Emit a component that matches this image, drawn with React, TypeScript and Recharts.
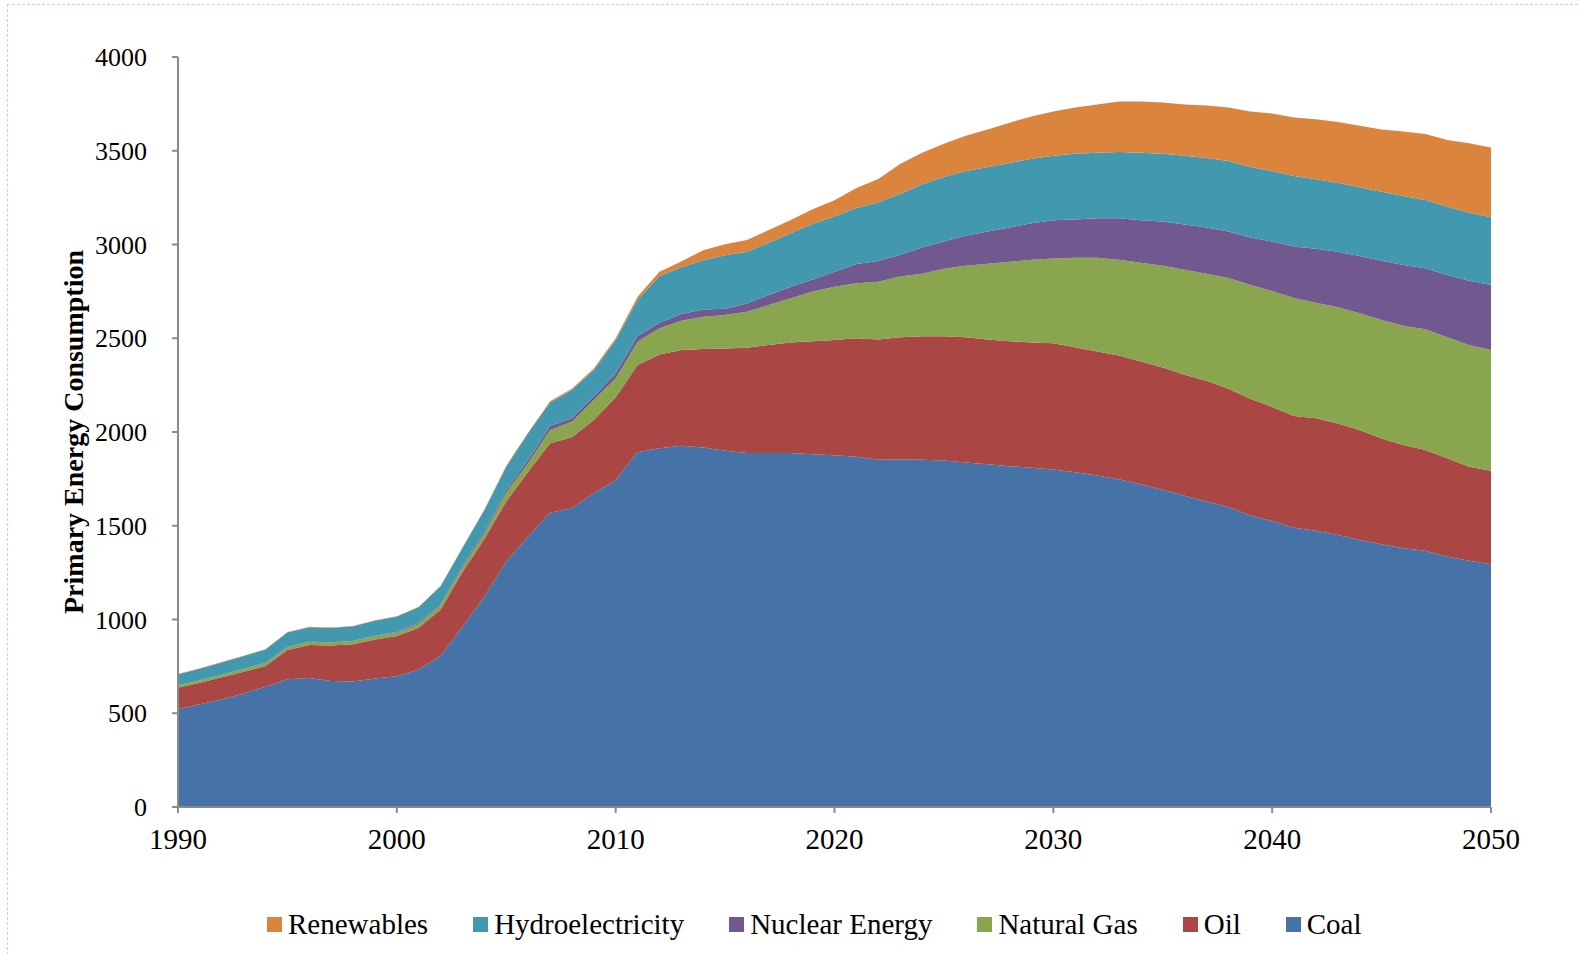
import { AreaChart, Area, XAxis, YAxis } from "recharts";

const years = [
  1990, 1991, 1992, 1993, 1994, 1995, 1996, 1997, 1998, 1999,
  2000, 2001, 2002, 2003, 2004, 2005, 2006, 2007, 2008, 2009,
  2010, 2011, 2012, 2013, 2014, 2015, 2016, 2017, 2018, 2019,
  2020, 2021, 2022, 2023, 2024, 2025, 2026, 2027, 2028, 2029,
  2030, 2031, 2032, 2033, 2034, 2035, 2036, 2037, 2038, 2039,
  2040, 2041, 2042, 2043, 2044, 2045, 2046, 2047, 2048, 2049, 2050,
];

const coal = [
  523, 548, 574, 606, 642, 681, 688, 672, 670, 686,
  697, 734, 805, 962, 1122, 1309, 1442, 1570, 1593, 1673,
  1744, 1892, 1913, 1927, 1917, 1900, 1888, 1888, 1888, 1881,
  1876, 1868, 1852, 1854, 1852, 1848, 1838, 1828, 1818, 1810,
  1800, 1785, 1768, 1748, 1720, 1692, 1660, 1630, 1600, 1555,
  1525, 1490, 1474, 1451, 1424, 1401, 1380, 1367, 1335, 1314, 1295,
];

const oil = [
  113, 115, 118, 116, 110, 156, 176, 190, 198, 208,
  215, 222, 249, 291, 308, 321, 346, 370, 379, 391,
  441, 465, 501, 510, 526, 546, 562, 576, 589, 603,
  615, 632, 642, 651, 659, 663, 667, 666, 666, 668,
  673, 667, 662, 660, 656, 652, 646, 644, 631, 622,
  609, 596, 599, 595, 587, 565, 551, 537, 525, 501, 499,
];

const naturalGas = [
  12, 12, 13, 14, 15, 15, 16, 16, 17, 18,
  18, 20, 22, 25, 28, 48, 45, 71, 83, 107,
  101, 125, 139, 157, 172, 178, 191, 213, 236, 265,
  284, 293, 308, 324, 333, 360, 382, 404, 424, 441,
  452, 478, 500, 511, 527, 543, 559, 570, 591, 608,
  618, 629, 617, 619, 622, 631, 636, 644, 645, 649, 643,
];

const nuclear = [
  1, 1, 1, 1, 1, 1, 1, 1, 1, 2,
  4, 5, 6, 8, 10, 13, 18, 21, 18, 18,
  27, 30, 30, 36, 38, 34, 45, 54, 62, 65,
  80, 103, 110, 116, 140, 145, 161, 172, 183, 194,
  204, 204, 210, 221, 226, 236, 242, 247, 248, 252,
  264, 274, 288, 297, 306, 317, 324, 325, 332, 343, 347,
];

const hydro = [
  59, 62, 65, 68, 72, 78, 78, 76, 78, 80,
  82, 85, 95, 95, 115, 124, 142, 126, 151, 142,
  178, 192, 249, 249, 263, 285, 276, 279, 285, 295,
  295, 299, 313, 324, 338, 344, 344, 344, 344, 344,
  344, 350, 349, 354, 360, 361, 366, 371, 376, 377,
  376, 376, 370, 368, 366, 368, 368, 364, 365, 363, 361,
];

const renewables = [
  2, 2, 2, 2, 2, 2, 2, 2, 2, 2,
  2, 2, 3, 3, 4, 5, 5, 6, 7, 8,
  9, 17, 23, 30, 54, 58, 62, 67, 71, 79,
  86, 106, 124, 161, 167, 177, 188, 199, 215, 226,
  236, 247, 258, 269, 274, 274, 274, 280, 285, 295,
  307, 312, 320, 323, 329, 332, 344, 352, 355, 370, 373,
];

const xTicks = [1990, 2000, 2010, 2020, 2030, 2040, 2050];
const yTicks = [0, 500, 1000, 1500, 2000, 2500, 3000, 3500, 4000];

// bottom of the stack first
const series = [
  { key: "coal", name: "Coal", color: "#4572a7", values: coal },
  { key: "oil", name: "Oil", color: "#aa4643", values: oil },
  { key: "gas", name: "Natural Gas", color: "#89a54e", values: naturalGas },
  { key: "nuclear", name: "Nuclear Energy", color: "#71588f", values: nuclear },
  { key: "hydro", name: "Hydroelectricity", color: "#4198af", values: hydro },
  { key: "renewables", name: "Renewables", color: "#db843d", values: renewables },
];

const data = years.map((year, i) => {
  const row: Record<string, number> = { year };
  series.forEach((s) => {
    row[s.key] = s.values[i];
  });
  return row;
});

const FONT = '"Times New Roman", "Liberation Serif", serif';
const AXIS = "#8a8a8a";

function LegendRow() {
  const items = [...series].reverse();
  return (
    <div
      style={{
        position: "absolute",
        left: 267,
        top: 908,
        display: "flex",
        alignItems: "center",
        fontFamily: FONT,
        fontSize: 29,
        color: "#000",
        whiteSpace: "nowrap",
      }}
    >
      {items.map((s) => (
        <div key={s.key} style={{ display: "flex", alignItems: "center", marginRight: 45 }}>
          <span style={{ width: 15, height: 15, background: s.color, marginRight: 6, display: "inline-block" }} />
          <span>{s.name}</span>
        </div>
      ))}
    </div>
  );
}

export default function App() {
  return (
    <div
      style={{
        position: "absolute",
        left: 0,
        top: 0,
        width: 1579,
        height: 954,
        overflow: "hidden",
        background: "#fff",
      }}
    >
      <div
        style={{
          position: "absolute",
          left: 7,
          top: 4,
          width: 1600,
          height: 1000,
          borderTop: "1px dashed #f7c59b",
          borderLeft: "1px dashed #f7c59b",
        }}
      />
      <div style={{ position: "absolute", left: 0, top: 0 }}>
        <AreaChart
          width={1579}
          height={900}
          data={data}
          margin={{ top: 57, right: 88, left: 20, bottom: 53 }}
        >
          <XAxis
            dataKey="year"
            type="number"
            domain={[1990, 2050]}
            ticks={xTicks}
            height={40}
            tick={{ fontSize: 29, fontFamily: FONT, fill: "#000" }}
            axisLine={{ stroke: AXIS, strokeWidth: 2 }}
            tickLine={{ stroke: AXIS, strokeWidth: 2 }}
            tickSize={6}
            tickMargin={15}
          />
          <YAxis
            type="number"
            domain={[0, 4000]}
            ticks={yTicks}
            width={158}
            tick={{ fontSize: 26, fontFamily: FONT, fill: "#000" }}
            axisLine={{ stroke: AXIS, strokeWidth: 2 }}
            tickLine={{ stroke: AXIS, strokeWidth: 2 }}
            tickSize={6}
            tickMargin={25}
            label={{
              value: "Primary Energy Consumption",
              angle: -90,
              position: "center",
              dx: -26,
              style: {
                fontSize: 28,
                fontWeight: "bold",
                fontFamily: FONT,
                fill: "#000",
                textAnchor: "middle",
              },
            }}
          />
          {series.map((s) => (
            <Area
              key={s.key}
              type="linear"
              dataKey={s.key}
              name={s.name}
              stackId="1"
              stroke="none"
              fill={s.color}
              fillOpacity={1}
              isAnimationActive={false}
            />
          ))}
        </AreaChart>
      </div>
      <LegendRow />
    </div>
  );
}
